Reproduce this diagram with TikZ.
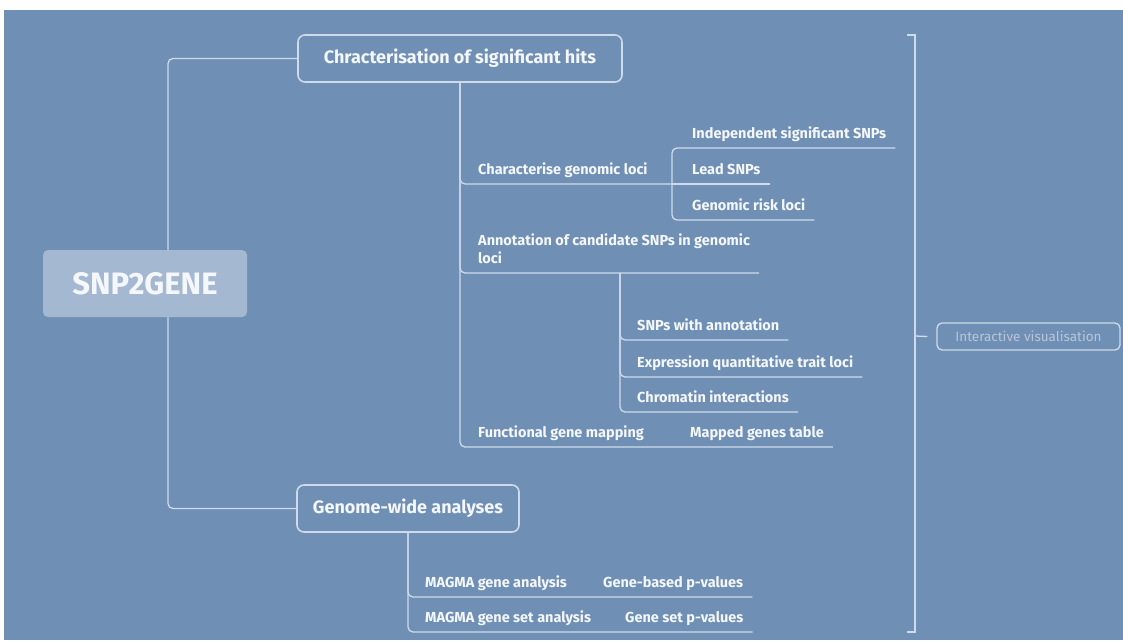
\documentclass[tikz,border=0pt]{standalone}
\usepackage{fontspec}
\setmainfont{Fira Sans}
\usetikzlibrary{backgrounds}
\definecolor{mmbg}{RGB}{111,143,181}
\definecolor{mmroot}{RGB}{164,184,209}
\definecolor{mmline}{RGB}{206,219,236}
\definecolor{mmtext}{RGB}{244,247,251}
\definecolor{mmgrey}{RGB}{186,198,215}

\begin{document}
\begin{tikzpicture}[x=1pt,y=-1pt,
  root/.style={fill=mmroot,rounded corners=5pt,text=mmtext,font=\fontsize{31}{36}\selectfont\bfseries,minimum width=204pt,minimum height=67pt},
  topic/.style={draw=mmline,line width=1.6pt,fill=mmbg,rounded corners=7pt,text=mmtext,font=\fontsize{18}{22}\selectfont\bfseries,minimum height=47pt},
  leaf/.style={anchor=south west,text=mmtext,font=\fontsize{14.5}{18}\selectfont\bfseries,inner xsep=9pt,inner ysep=0pt,text height=10pt,text depth=9pt},
  link/.style={draw=mmline,line width=1.3pt,rounded corners=5pt}]
  \useasboundingbox (0,0) rectangle (1123,640);

  % main topics
  \node[root] (snp) at (145,283.5) {SNP2GENE};
  \node[topic,minimum width=324pt] (hits) at (460,58.5) {Chracterisation of significant hits};
  \node[topic,minimum width=222pt] (gwa) at (408,508.5) {Genome-wide analyses};
  \node[draw=mmline,line width=1.3pt,rounded corners=5pt,text=mmgrey,font=\fontsize{13.5}{16}\selectfont,
        minimum width=183pt,minimum height=27pt] (vis) at (1028.5,336.5) {Interactive visualisation};

  % sub topics
  \node[leaf] (indep) at (683,148) {Independent significant SNPs};
  \node[leaf] (loci) at (469,184) {Characterise genomic loci};
  \node[leaf] (lead) at (683,184) {Lead SNPs};
  \node[leaf] (risk) at (683,220) {Genomic risk loci};
  \node[leaf,align=left] (annot) at (469,273) {Annotation of candidate SNPs in genomic\\loci};
  \node[leaf] (snpann) at (628,340) {SNPs with annotation};
  \node[leaf] (eqtl) at (628,377) {Expression quantitative trait loci};
  \node[leaf] (chrom) at (628,412) {Chromatin interactions};
  \node[leaf] (func) at (469,447) {Functional gene mapping};
  \node[leaf] (mapped) at (681,447) {Mapped genes table};
  \node[leaf] (magma) at (416,597) {MAGMA gene analysis};
  \node[leaf] (pval) at (594,597) {Gene-based p-values};
  \node[leaf] (magset) at (416,632) {MAGMA gene set analysis};
  \node[leaf] (setp) at (616,632) {Gene set p-values};

  \coordinate (locifork) at (672,184);
  \coordinate (annotfork) at (620,273);
  \coordinate (brtop) at (907,35);
  \coordinate (brbot) at (907,632);

  \begin{pgfonlayer}{background}
    \fill[white] (0,0) rectangle (1123,640);
    \fill[mmbg] (4,10) rectangle (1123,640);
    \draw[link] ([xshift=23pt]snp.north) |- (hits.west);
    \draw[link] ([xshift=23pt]snp.south) |- (gwa.west);
    % characterisation branch
    \draw[link] (hits.south) |- (locifork);
    \draw[link] (locifork) |- (indep.south east);
    \draw[link] (locifork) -- (lead.south east);
    \draw[link] (locifork) |- (risk.south east);
    \draw[link] (hits.south) |- (annot.south east);
    \draw[link] (annotfork) |- (snpann.south east);
    \draw[link] (annotfork) |- (eqtl.south east);
    \draw[link] (annotfork) |- (chrom.south east);
    \draw[link] (hits.south) |- (func.south east) -- (mapped.south east);
    % genome-wide branch
    \draw[link] (gwa.south) |- (magma.south east) -- (pval.south east);
    \draw[link] (gwa.south) |- (magset.south east) -- (setp.south east);
    % summary bracket
    \draw[link,rounded corners=0pt] (brtop) -- ++(8,0) |- (brbot);
    \draw[link] (brtop -| 915,0) ++(0,301) -- ([xshift=-9pt]vis.west);
  \end{pgfonlayer}
\end{tikzpicture}
\end{document}
